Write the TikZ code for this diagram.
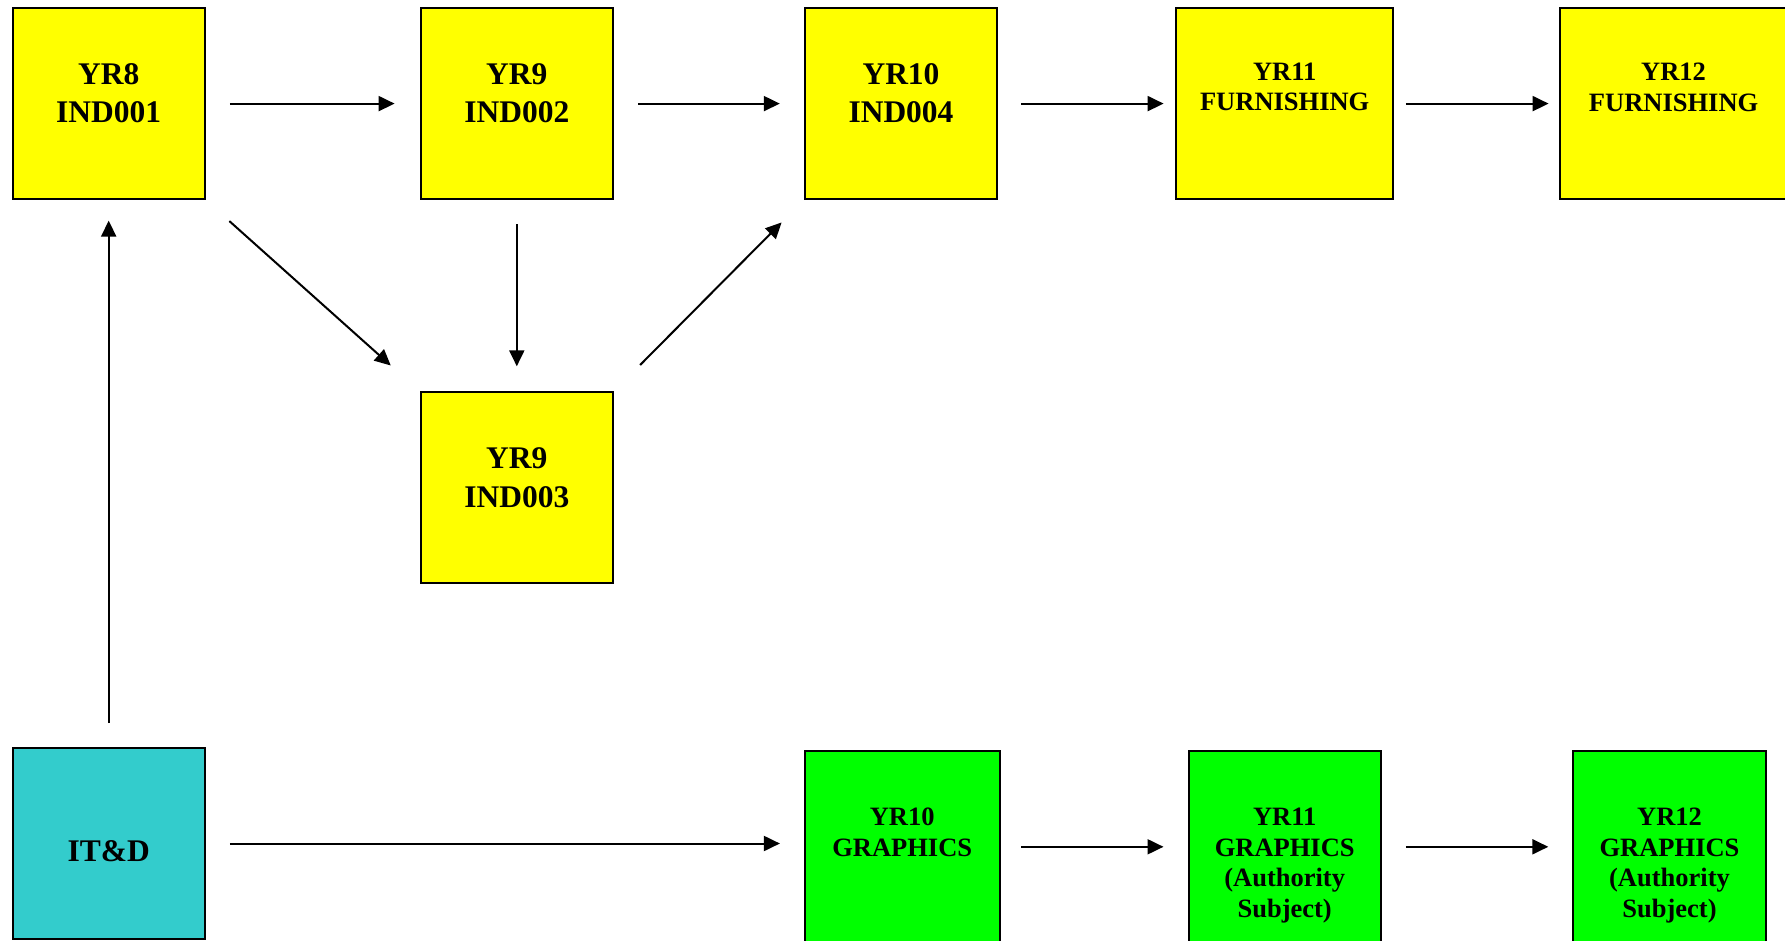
\documentclass[tikz,border=0pt]{standalone}
\usepackage{fontspec}
\setmainfont{Liberation Serif}
\usetikzlibrary{arrows.meta}
\definecolor{yel}{HTML}{FFFF00}
\definecolor{grn}{HTML}{00FF00}
\definecolor{cyn}{HTML}{33CCCC}
\tikzset{
  box/.style={draw=black, line width=2pt, inner sep=0pt, minimum width=192.4pt, minimum height=191pt},
  ybox/.style={box, fill=yel},
  gbox/.style={box, fill=grn},
  cbox/.style={box, fill=cyn},
  bigtxt/.style={font=\bfseries\fontsize{31.5}{38.7}\selectfont, align=center, inner sep=0pt},
  smalltxt/.style={font=\bfseries\fontsize{26.5}{30.7}\selectfont, align=center, inner sep=0pt},
  arr/.style={-{Triangle[length=16pt,width=15pt]}, line width=2pt}
}
\begin{document}
\begin{tikzpicture}[x=1pt,y=-1pt]
\useasboundingbox (0,0) rectangle (1785,941);
\clip (0,0) rectangle (1785,941);
% yellow row
\node[ybox] (Y8) at (108.7,103.6) {};
\node[ybox] (Y9a) at (516.8,103.6) {};
\node[ybox] (Y10) at (901,103.6) {};
\node[ybox, minimum width=217.4pt] (Y11) at (1284.7,103.6) {};
\node[ybox, minimum width=228pt] (Y12) at (1673.6,103.6) {};
\node[ybox] (Y9b) at (516.8,487.8) {};
% bottom row
\node[cbox] (ITD) at (108.7,843.5) {};
\node[gbox, minimum width=194.6pt] (G10) at (902.2,846.8) {};
\node[gbox] (G11) at (1284.7,846.8) {};
\node[gbox] (G12) at (1669.5,846.8) {};
% texts
\node[bigtxt, anchor=north] (tY8) at ([yshift=-56]Y8.north) {YR8\\IND001};
\node[bigtxt, anchor=north] (tY9a) at ([yshift=-56]Y9a.north) {YR9\\IND002};
\node[bigtxt, anchor=north] (tY10) at ([yshift=-56]Y10.north) {YR10\\IND004};
\node[smalltxt, anchor=north] (tY11) at ([yshift=-55.5]Y11.north) {YR11\\FURNISHING};
\node[smalltxt, anchor=north] (tY12) at ([yshift=-55.5]Y12.north) {YR12\\FURNISHING};
\node[bigtxt, anchor=north] (tY9b) at ([yshift=-56]Y9b.north) {YR9\\IND003};
\node[bigtxt] (tITD) at ([yshift=-8]ITD.center) {IT\&D};
\node[smalltxt, anchor=north] (tG10) at ([yshift=-57.5]G10.north) {YR10\\GRAPHICS};
\node[smalltxt, anchor=north] (tG11) at ([yshift=-57.5]G11.north) {YR11\\GRAPHICS\\(Authority\\Subject)};
\node[smalltxt, anchor=north] (tG12) at ([yshift=-57.5]G12.north) {YR12\\GRAPHICS\\(Authority\\Subject)};
% arrows top row
\draw[arr, shorten <=24pt, shorten >=25pt] (Y8.east) -- (Y9a.west);
\draw[arr, shorten <=24pt, shorten >=24pt] (Y9a.east) -- (Y10.west);
\draw[arr, shorten <=23pt, shorten >=11.4pt] (Y10.east) -- (Y11.west);
\draw[arr, shorten <=11.4pt, shorten >=10pt] (Y11.east) -- (Y12.west);
% diagonals and verticals
\draw[arr, shorten <=31.5pt, shorten >=38.7pt] (Y8.south east) -- (Y9b.north west);
\draw[arr, shorten <=24pt, shorten >=25pt] (Y9a.south) -- (Y9b.north);
\draw[arr, shorten <=37pt, shorten >=31.5pt] (Y9b.north east) -- (Y10.south west);
\draw[arr, shorten <=24pt, shorten >=20.5pt] (ITD.north) -- (Y8.south);
% bottom row
\draw[arr, shorten <=24pt, shorten >=24pt] (ITD.east) -- (ITD.east -| G10.west);
\draw[arr, shorten <=20.5pt, shorten >=24pt] (G10.east) -- (G11.west);
\draw[arr, shorten <=24pt, shorten >=24pt] (G11.east) -- (G12.west);
\end{tikzpicture}
\end{document}
